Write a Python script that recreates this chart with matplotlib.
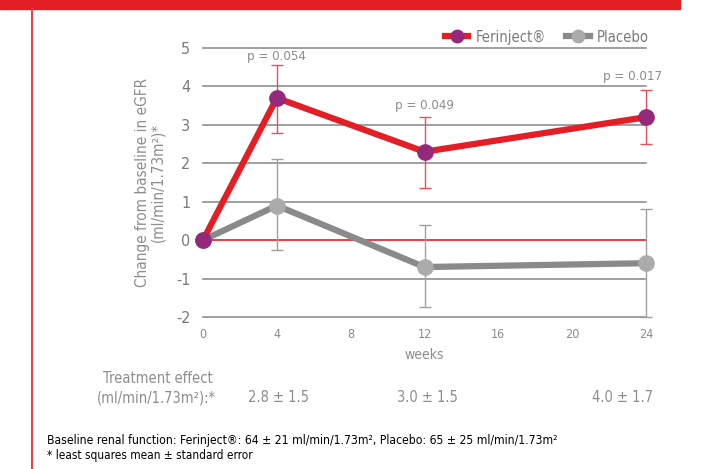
"""eGFR change from baseline: Ferinject vs placebo."""

import matplotlib

matplotlib.use("Agg")
import matplotlib.pyplot as plt
from matplotlib.lines import Line2D
from matplotlib.patches import Rectangle


weeks = [0, 4, 12, 24]
ferinject = [0.0, 3.7, 2.3, 3.2]
ferinject_low = [0.0, 2.8, 1.35, 2.5]
ferinject_high = [0.0, 4.55, 3.2, 3.9]
placebo = [0.0, 0.9, -0.7, -0.6]
placebo_low = [0.0, -0.25, -1.75, -2.0]
placebo_high = [0.0, 2.1, 0.4, 0.8]
p_weeks = [4, 12, 24]
p_labels = ["p = 0.054", "p = 0.049", "p = 0.017"]
p_heights = [4.6, 3.33, 4.09]
effect_labels = ["2.8 ± 1.5", "3.0 ± 1.5", "4.0 ± 1.7"]
x_ticks = [0, 4, 8, 12, 16, 20, 24]
y_ticks = [-2, -1, 0, 1, 2, 3, 4, 5]

RED = "#e31e24"
GREY = "#8a8a8a"
TEXT = "#8c8c8c"

plt.rcParams["font.family"] = ["DejaVu Sans"]
plt.rcParams["font.stretch"] = "condensed"

W, H = 728, 469
fig = plt.figure(figsize=(W / 100, H / 100), dpi=100)
ax = fig.add_axes([203 / W, 1 - 317 / H, 443 / W, 269 / H])
ax.set_xlim(0, 24)
ax.set_ylim(-2, 5)
for spine in ax.spines.values():
    spine.set_visible(False)

# horizontal grid, zero line in red
for y in y_ticks:
    color = RED if y == 0 else "#8f8f8f"
    ax.plot([0, 24], [y, y], color=color, linewidth=1.2, zorder=1, clip_on=False)

# error bars
for data, lo, hi, col in [
    (placebo, placebo_low, placebo_high, "#a0a0a0"),
    (ferinject, ferinject_low, ferinject_high, "#e8505a"),
]:
    err = [[d - l for d, l in zip(data, lo)], [h - d for d, h in zip(data, hi)]]
    ax.errorbar(weeks[1:], data[1:], yerr=[err[0][1:], err[1][1:]], fmt="none",
                ecolor=col, elinewidth=1.0, capsize=4, capthick=1.0, zorder=2,
                clip_on=False)

ax.plot(weeks, placebo, color=GREY, linewidth=4.5, marker="o", markersize=11,
        markerfacecolor="#ababab", markeredgecolor="#ababab", zorder=3, clip_on=False)
ax.plot(weeks, ferinject, color=RED, linewidth=4.5, marker="o", markersize=11,
        markerfacecolor="#94297c", markeredgecolor="#94297c", zorder=4, clip_on=False)

for wk, lab, h in zip(p_weeks, p_labels, p_heights):
    ha = "right" if wk == 24 else "center"
    xx = 24.9 if wk == 24 else wk
    ax.text(xx, h, lab, ha=ha, va="bottom", color=TEXT, fontsize=9.5)

ax.set_xticks(x_ticks)
ax.set_yticks(y_ticks)
ax.set_yticklabels([str(v) for v in y_ticks])
ax.tick_params(axis="x", length=0, pad=8, labelsize=9, labelcolor=TEXT)
ax.tick_params(axis="y", length=0, pad=9, labelsize=11.5, labelcolor="#7a7a7a")
ax.set_xlabel("weeks", color=TEXT, fontsize=10, labelpad=5)
ax.set_ylabel("Change from baseline in eGFR\n(ml/min/1.73m²)*", color=TEXT,
              fontsize=11, labelpad=8, linespacing=1.0)

# legend
handles = [
    Line2D([0], [0], color=RED, linewidth=4.5, marker="o", markersize=9,
           markerfacecolor="#94297c", markeredgecolor="#94297c"),
    Line2D([0], [0], color=GREY, linewidth=4.5, marker="o", markersize=9,
           markerfacecolor="#ababab", markeredgecolor="#ababab"),
]
fig.legend(handles, ["Ferinject®", "Placebo"], loc="center right",
           bbox_to_anchor=(662 / W, 1 - 37 / H), ncol=2, frameon=False,
           handlelength=1.6, handletextpad=0.5, columnspacing=1.4,
           fontsize=10.5, labelcolor="#7a7a7a")

# treatment effect row
fig.text(158 / W, 1 - 378 / H, "Treatment effect", ha="center", va="center",
         color=TEXT, fontsize=10.5)
fig.text(156 / W, 1 - 398 / H, "(ml/min/1.73m²):*", ha="center", va="center",
         color=TEXT, fontsize=10.5)
for wk, lab in zip(p_weeks, effect_labels):
    x_pix = {4: 278, 12: 427, 24: 622}[wk]
    fig.text(x_pix / W, 1 - 398 / H, lab, ha="center", va="center",
             color=TEXT, fontsize=10.5)

# footnotes
fig.text(47 / W, 1 - 440 / H,
         "Baseline renal function: Ferinject®: 64 ± 21 ml/min/1.73m², "
         "Placebo: 65 ± 25 ml/min/1.73m²",
         ha="left", va="center", color="black", fontsize=8.7)
fig.text(47 / W, 1 - 455 / H, "* least squares mean ± standard error",
         ha="left", va="center", color="black", fontsize=8.5)

# page decoration
fig.patches.append(Rectangle((0, 1 - 9 / H), 680 / W, 9 / H,
                             transform=fig.transFigure, color=RED, zorder=0))
fig.add_artist(Line2D([32 / W, 32 / W], [0, 1 - 9 / H], color="#e8414a",
                      linewidth=1.5, transform=fig.transFigure))

fig.savefig("out.png", dpi=100)
